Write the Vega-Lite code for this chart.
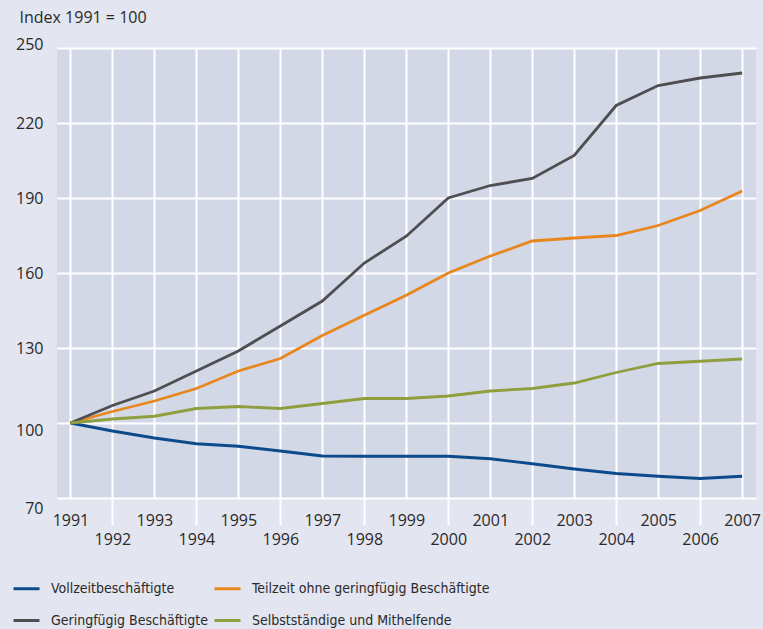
{
  "$schema": "https://vega.github.io/schema/vega-lite/v6.json",
  "width": 699,
  "height": 450,
  "autosize": {"type": "none"},
  "padding": {"left": 57, "top": 48, "right": 7, "bottom": 131},
  "background": "#e3e5f0",
  "view": {"fill": "#d3d8e7", "stroke": null},
  "config": {
    "font": "Open Sans",
    "axis": {"labelFont": "Open Sans", "labelFontSize": 16, "labelColor": "#2a2a2a", "domain": false}
  },
  "data": {
    "values": [
      {"year": 1991, "series": "Vollzeitbeschäftigte", "value": 100},
      {"year": 1992, "series": "Vollzeitbeschäftigte", "value": 96.8},
      {"year": 1993, "series": "Vollzeitbeschäftigte", "value": 94},
      {"year": 1994, "series": "Vollzeitbeschäftigte", "value": 91.7},
      {"year": 1995, "series": "Vollzeitbeschäftigte", "value": 90.7},
      {"year": 1996, "series": "Vollzeitbeschäftigte", "value": 88.8},
      {"year": 1997, "series": "Vollzeitbeschäftigte", "value": 86.8},
      {"year": 1998, "series": "Vollzeitbeschäftigte", "value": 86.7},
      {"year": 1999, "series": "Vollzeitbeschäftigte", "value": 86.7},
      {"year": 2000, "series": "Vollzeitbeschäftigte", "value": 86.7},
      {"year": 2001, "series": "Vollzeitbeschäftigte", "value": 85.7},
      {"year": 2002, "series": "Vollzeitbeschäftigte", "value": 83.7},
      {"year": 2003, "series": "Vollzeitbeschäftigte", "value": 81.6},
      {"year": 2004, "series": "Vollzeitbeschäftigte", "value": 79.8},
      {"year": 2005, "series": "Vollzeitbeschäftigte", "value": 78.7},
      {"year": 2006, "series": "Vollzeitbeschäftigte", "value": 77.8},
      {"year": 2007, "series": "Vollzeitbeschäftigte", "value": 78.7},
      {"year": 1991, "series": "Teilzeit ohne geringfügig Beschäftigte", "value": 100},
      {"year": 1992, "series": "Teilzeit ohne geringfügig Beschäftigte", "value": 104.6},
      {"year": 1993, "series": "Teilzeit ohne geringfügig Beschäftigte", "value": 108.8},
      {"year": 1994, "series": "Teilzeit ohne geringfügig Beschäftigte", "value": 113.8},
      {"year": 1995, "series": "Teilzeit ohne geringfügig Beschäftigte", "value": 120.8},
      {"year": 1996, "series": "Teilzeit ohne geringfügig Beschäftigte", "value": 125.8},
      {"year": 1997, "series": "Teilzeit ohne geringfügig Beschäftigte", "value": 135},
      {"year": 1998, "series": "Teilzeit ohne geringfügig Beschäftigte", "value": 143.1},
      {"year": 1999, "series": "Teilzeit ohne geringfügig Beschäftigte", "value": 151.1},
      {"year": 2000, "series": "Teilzeit ohne geringfügig Beschäftigte", "value": 160},
      {"year": 2001, "series": "Teilzeit ohne geringfügig Beschäftigte", "value": 166.8},
      {"year": 2002, "series": "Teilzeit ohne geringfügig Beschäftigte", "value": 172.8},
      {"year": 2003, "series": "Teilzeit ohne geringfügig Beschäftigte", "value": 174},
      {"year": 2004, "series": "Teilzeit ohne geringfügig Beschäftigte", "value": 175},
      {"year": 2005, "series": "Teilzeit ohne geringfügig Beschäftigte", "value": 179},
      {"year": 2006, "series": "Teilzeit ohne geringfügig Beschäftigte", "value": 185},
      {"year": 2007, "series": "Teilzeit ohne geringfügig Beschäftigte", "value": 192.8},
      {"year": 1991, "series": "Geringfügig Beschäftigte", "value": 100},
      {"year": 1992, "series": "Geringfügig Beschäftigte", "value": 107},
      {"year": 1993, "series": "Geringfügig Beschäftigte", "value": 112.8},
      {"year": 1994, "series": "Geringfügig Beschäftigte", "value": 120.8},
      {"year": 1995, "series": "Geringfügig Beschäftigte", "value": 128.8},
      {"year": 1996, "series": "Geringfügig Beschäftigte", "value": 138.8},
      {"year": 1997, "series": "Geringfügig Beschäftigte", "value": 148.8},
      {"year": 1998, "series": "Geringfügig Beschäftigte", "value": 164},
      {"year": 1999, "series": "Geringfügig Beschäftigte", "value": 174.7},
      {"year": 2000, "series": "Geringfügig Beschäftigte", "value": 190},
      {"year": 2001, "series": "Geringfügig Beschäftigte", "value": 195},
      {"year": 2002, "series": "Geringfügig Beschäftigte", "value": 197.8},
      {"year": 2003, "series": "Geringfügig Beschäftigte", "value": 207},
      {"year": 2004, "series": "Geringfügig Beschäftigte", "value": 227},
      {"year": 2005, "series": "Geringfügig Beschäftigte", "value": 235},
      {"year": 2006, "series": "Geringfügig Beschäftigte", "value": 238},
      {"year": 2007, "series": "Geringfügig Beschäftigte", "value": 240},
      {"year": 1991, "series": "Selbstständige und Mithelfende", "value": 100},
      {"year": 1992, "series": "Selbstständige und Mithelfende", "value": 101.6},
      {"year": 1993, "series": "Selbstständige und Mithelfende", "value": 102.7},
      {"year": 1994, "series": "Selbstständige und Mithelfende", "value": 105.8},
      {"year": 1995, "series": "Selbstständige und Mithelfende", "value": 106.6},
      {"year": 1996, "series": "Selbstständige und Mithelfende", "value": 105.8},
      {"year": 1997, "series": "Selbstständige und Mithelfende", "value": 107.8},
      {"year": 1998, "series": "Selbstständige und Mithelfende", "value": 109.8},
      {"year": 1999, "series": "Selbstständige und Mithelfende", "value": 109.8},
      {"year": 2000, "series": "Selbstständige und Mithelfende", "value": 110.8},
      {"year": 2001, "series": "Selbstständige und Mithelfende", "value": 112.8},
      {"year": 2002, "series": "Selbstständige und Mithelfende", "value": 113.8},
      {"year": 2003, "series": "Selbstständige und Mithelfende", "value": 116},
      {"year": 2004, "series": "Selbstständige und Mithelfende", "value": 120.2},
      {"year": 2005, "series": "Selbstständige und Mithelfende", "value": 123.8},
      {"year": 2006, "series": "Selbstständige und Mithelfende", "value": 124.7},
      {"year": 2007, "series": "Selbstständige und Mithelfende", "value": 125.6}
    ]
  },
  "mark": {"type": "line", "strokeWidth": 2.8},
  "encoding": {
    "x": {
      "field": "year",
      "type": "quantitative",
      "scale": {"domain": [1990.68, 2007.33], "nice": false, "zero": false},
      "axis": {
        "title": null,
        "values": [1991, 1992, 1993, 1994, 1995, 1996, 1997, 1998, 1999, 2000, 2001, 2002, 2003, 2004, 2005, 2006, 2007],
        "format": "d",
        "labelFlush": false,
        "labelOverlap": false,
        "grid": true,
        "gridColor": "#ffffff",
        "gridWidth": 2,
        "gridOpacity": 1,
        "ticks": true,
        "tickColor": "#ffffff",
        "tickWidth": 2,
        "tickSize": {"condition": {"test": "datum.value % 2 == 0", "value": 27}, "value": 0},
        "labelBaseline": "middle",
        "labelPadding": {"condition": {"test": "datum.value % 2 == 0", "value": 14}, "value": 22}
      }
    },
    "y": {
      "field": "value",
      "type": "quantitative",
      "scale": {"domain": [70, 250], "nice": false, "zero": false},
      "axis": {
        "values": [70, 100, 130, 160, 190, 220, 250],
        "grid": true,
        "gridColor": "#ffffff",
        "gridWidth": 2,
        "gridOpacity": 1,
        "ticks": false,
        "labelPadding": 14,
        "labelOffset": {"condition": [{"test": "datum.value == 250", "value": -4}, {"test": "datum.value == 100", "value": 7}, {"test": "datum.value == 70", "value": 10}], "value": 0},
        "title": "Index 1991 = 100",
        "titleAngle": 0,
        "titleX": -38,
        "titleY": -31,
        "titleAlign": "left",
        "titleBaseline": "middle",
        "titleFont": "Open Sans",
        "titleFontSize": 16,
        "titleFontWeight": "normal",
        "titleColor": "#2a2a2a"
      }
    },
    "color": {
      "field": "series",
      "type": "nominal",
      "scale": {
        "domain": ["Vollzeitbeschäftigte", "Geringfügig Beschäftigte", "Teilzeit ohne geringfügig Beschäftigte", "Selbstständige und Mithelfende"],
        "range": ["#0b4a8b", "#4f4f51", "#e8871e", "#8f9f3d"]
      },
      "legend": {
        "title": null,
        "orient": "none",
        "legendX": -45,
        "legendY": 526,
        "columns": 2,
        "columnPadding": 0,
        "rowPadding": 10,
        "symbolType": "stroke",
        "symbolSize": 676,
        "symbolStrokeWidth": 3,
        "labelFont": "DejaVu Sans Condensed, Roboto, sans-serif",
        "labelFontSize": 14,
        "labelColor": "#2a2a2a",
        "labelOffset": 10,
        "labelLimit": 400
      }
    }
  }
}
